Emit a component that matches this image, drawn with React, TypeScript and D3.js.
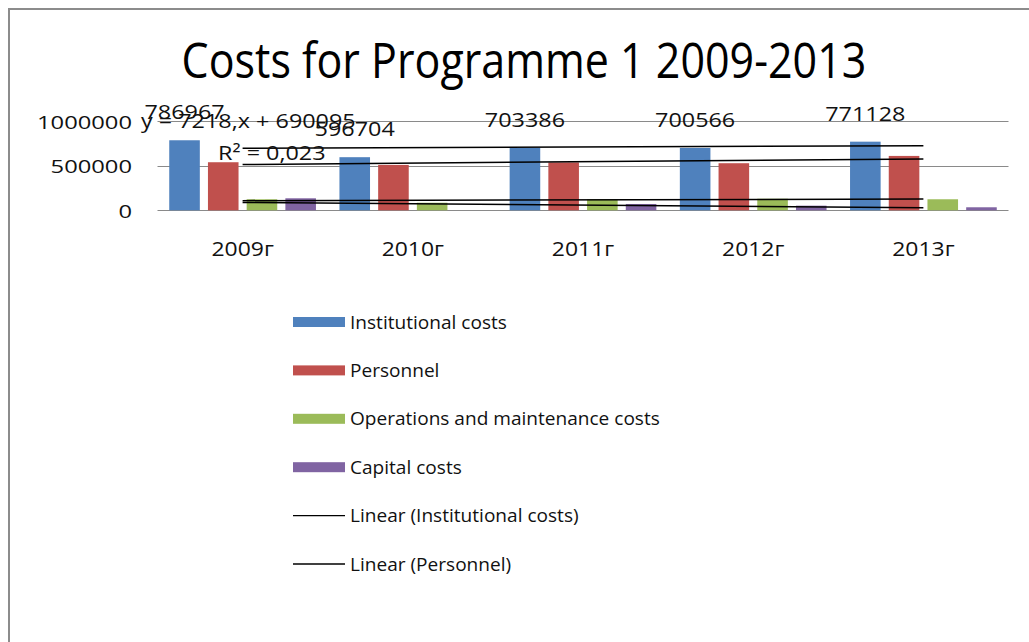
import React from "react";
import * as d3 from "d3";

const years = ["2009г", "2010г", "2011г", "2012г", "2013г"];
const institutional = [786967, 596704, 703386, 700566, 771128];
const personnel = [540000, 510000, 538000, 529000, 611000];
const operations = [124000, 85000, 124000, 130000, 124000];
const capital = [135000, 0, 71000, 52000, 34000];
const yTicks = [0, 500000, 1000000];
const seriesNames = ["Institutional costs", "Personnel", "Operations and maintenance costs", "Capital costs"];
const trendLegend = ["Linear (Institutional costs)", "Linear (Personnel)"];
const equationText = "y = 7218,x + 690095";
const r2Text = "R² = 0,023";
const title = "Costs for Programme 1 2009-2013";

const colors = ["#4F81BD", "#C0504D", "#9BBB59", "#8064A2"];
const FONT = "'Open Sans', sans-serif";

function T({ x, y, k = 1, size, anchor = "start", children, fill = "#111" }: any) {
  return (
    <text
      transform={`translate(${x},${y}) scale(${k},1)`}
      fontSize={size}
      textAnchor={anchor}
      fontFamily={FONT}
      fill={fill}
    >
      {children}
    </text>
  );
}

function regression(vals: number[]) {
  const xs = vals.map((_, i) => i + 1);
  const mx = d3.mean(xs) as number;
  const my = d3.mean(vals) as number;
  let num = 0, den = 0;
  xs.forEach((x, i) => { num += (x - mx) * (vals[i] - my); den += (x - mx) * (x - mx); });
  const b = num / den;
  const a = my - b * mx;
  return (x: number) => a + b * x;
}

export default function App() {
  const W = 1029, H = 642;
  const plotL = 157.5, plotR = 1008.5;
  const y = d3.scaleLinear().domain([0, 1000000]).range([210.3, 121.3]);
  const x0 = d3.scaleBand<string>().domain(years).range([plotL, plotR]).padding(0);
  const bw = x0.bandwidth();
  const x1 = d3.scaleBand<string>().domain(seriesNames).range([bw * 0.069, bw * 0.931]).paddingInner(0.21).paddingOuter(0);
  const all = [institutional, personnel, operations, capital];
  const center = (i: number) => (x0(years[i]) as number) + bw / 2;
  const line = d3.line<[number, number]>().x(d => d[0]).y(d => d[1]);

  const legendX = 293, legendTextX = 350, legendY0 = 322, legendStep = 48.4;

  return (
    <svg width={W} height={H} style={{ position: "absolute", left: 0, top: 0, background: "#fff" }}>
      <rect x={0} y={0} width={W} height={H} fill="#fff" />
      <line x1={8} y1={9} x2={W} y2={9} stroke="#8c8c8c" strokeWidth={2} />
      <line x1={9} y1={8} x2={9} y2={H} stroke="#8c8c8c" strokeWidth={2} />

      <T x={524} y={78} size={50} k={0.86} anchor="middle" fill="#000">{title}</T>

      {yTicks.map(t => (
        <g key={t}>
          <line x1={plotL} x2={plotR} y1={Math.round(y(t)) + 0.5} y2={Math.round(y(t)) + 0.5} stroke="#8a8a8a" strokeWidth={1} />
          <T x={132} y={y(t) + 7.5} size={18.7} k={1.27} anchor="end">{d3.format("d")(t)}</T>
        </g>
      ))}

      {all.map((vals, si) =>
        vals.map((v, i) => v > 0 ? (
          <rect
            key={`${si}-${i}`}
            x={(x0(years[i]) as number) + (x1(seriesNames[si]) as number)}
            y={y(v)}
            width={x1.bandwidth()}
            height={y(0) - y(v)}
            fill={colors[si]}
          />
        ) : null)
      )}

      {all.map((vals, si) => {
        const f = regression(vals);
        const pts: [number, number][] = [[center(0), y(f(1))], [center(4), y(f(5))]];
        return <path key={`tr${si}`} d={line(pts) as string} stroke="#000" strokeWidth={1.5} fill="none" />;
      })}

      {years.map((yr, i) => (
        <T key={yr} x={center(i)} y={255.5} size={19.6} k={1.17} anchor="middle">{yr}</T>
      ))}

      {institutional.map((v, i) => (
        <T key={`lb${i}`} x={(x0(years[i]) as number) + (x1(seriesNames[0]) as number) + x1.bandwidth() / 2} y={y(v) - 21} size={20} k={1.17} anchor="middle">{String(v)}</T>
      ))}

      <T x={141} y={128} size={20} k={1.17}>{equationText}</T>
      <T x={218} y={160} size={20} k={1.17}>{r2Text}</T>

      {seriesNames.map((n, i) => (
        <g key={n}>
          <rect x={legendX} y={legendY0 + i * legendStep - 5} width={52} height={10} fill={colors[i]} />
          <T x={legendTextX} y={legendY0 + i * legendStep + 6.5} size={18.7} k={1.02}>{n}</T>
        </g>
      ))}
      {trendLegend.map((n, j) => {
        const cy = legendY0 + (4 + j) * legendStep;
        return (
          <g key={n}>
            <line x1={legendX} x2={legendX + 52} y1={cy} y2={cy} stroke="#000" strokeWidth={1.3} />
            <T x={legendTextX} y={cy + 6.5} size={18.7} k={1.02}>{n}</T>
          </g>
        );
      })}
    </svg>
  );
}
